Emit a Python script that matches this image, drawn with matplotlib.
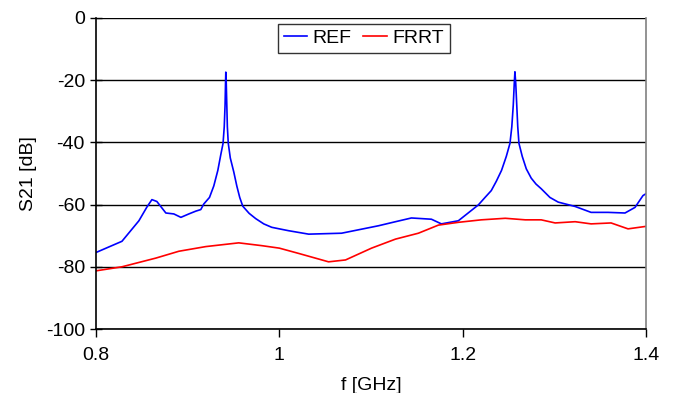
import matplotlib
matplotlib.use("Agg")
import matplotlib.pyplot as plt

plt.rcParams['font.family'] = ['Liberation Sans', 'DejaVu Sans']

ref_f = [0.800, 0.8283, 0.8468, 0.8555, 0.8610, 0.8664, 0.8762, 0.8849, 0.8926, 0.9013,
         0.9089, 0.9143, 0.9176, 0.9238, 0.9285, 0.9329, 0.9361, 0.9386, 0.9399, 0.9408,
         0.9413, 0.9416, 0.9421, 0.9427, 0.9433, 0.9443, 0.9465, 0.9503, 0.9536, 0.9568,
         0.9601, 0.9670, 0.9742, 0.9830, 0.9917, 1.0000, 1.0102,
         1.0320, 1.0679, 1.1082, 1.1267, 1.1441, 1.1659, 1.1768, 1.1953, 1.2171,
         1.2244, 1.2312, 1.2367, 1.2424, 1.2476, 1.2516, 1.2536, 1.2552, 1.2563, 1.2570,
         1.2579, 1.2590, 1.2601, 1.2614, 1.2650, 1.2694, 1.2748, 1.2800, 1.2857, 1.2952,
         1.3042, 1.3227, 1.3401, 1.3586, 1.3771, 1.3880, 1.3967, 1.4000]
ref_db = [-75.4, -71.8, -65.2, -60.8, -58.4, -59.0, -62.7, -63.0, -64.1, -63.0,
          -62.1, -61.6, -59.8, -57.7, -54.0, -49.0, -44.0, -40.3, -35.0, -28.0,
          -21.0, -17.4, -21.0, -28.0, -35.0, -40.3, -45.0, -49.5, -54.0, -57.7,
          -60.5, -62.8, -64.5, -66.2, -67.3, -67.8, -68.4,
          -69.5, -69.2, -66.8, -65.5, -64.3, -64.7, -66.2, -65.2, -60.1,
          -57.7, -55.5, -52.5, -49.0, -44.5, -40.3, -35.0, -28.0, -21.0, -17.3,
          -21.0, -28.0, -35.0, -40.3, -44.5, -48.5, -51.5, -53.4, -54.9, -57.7,
          -59.2, -60.6, -62.5, -62.5, -62.7, -60.9, -57.1, -56.5]

frrt_f = [0.800, 0.8283, 0.8468, 0.8653, 0.8904, 0.9198, 0.9557, 0.9808, 1.0000,
          1.0211, 1.0537, 1.0722, 1.1006, 1.1267, 1.1517, 1.1735, 1.1953, 1.2203,
          1.2465, 1.2683, 1.2857, 1.3009, 1.3227, 1.3401, 1.3619, 1.3804, 1.4000]
frrt_db = [-81.3, -80.0, -78.6, -77.2, -75.0, -73.5, -72.3, -73.2, -74.0,
           -75.7, -78.4, -77.8, -74.0, -71.1, -69.2, -66.6, -65.7, -64.9,
           -64.4, -64.9, -64.9, -65.9, -65.5, -66.2, -65.9, -67.8, -67.0]

x_ticks = [0.8, 1.0, 1.2, 1.4]
x_tick_labels = ['0.8', '1', '1.2', '1.4']
y_ticks = [0, -20, -40, -60, -80, -100]

fig = plt.figure(figsize=(6.73, 3.93), dpi=100)
ax = fig.add_axes([96/673, 1-329/393, 550/673, 311/393])

ax.plot(ref_f, ref_db, color='#0000ff', lw=1.2, label='REF')
ax.plot(frrt_f, frrt_db, color='#ff0000', lw=1.2, label='FRRT')

ax.set_xlim(0.8, 1.4)
ax.set_ylim(-100, 0)
ax.set_xticks(x_ticks)
ax.set_xticklabels(x_tick_labels)
ax.set_yticks(y_ticks)
ax.set_yticklabels([str(v) for v in y_ticks])
ax.yaxis.grid(True, color='black', lw=1.0)
ax.set_axisbelow(True)

for s in ['left', 'bottom']:
    ax.spines[s].set_color('black')
    ax.spines[s].set_linewidth(1.2)
ax.spines['top'].set_visible(False)
ax.spines['right'].set_color('#808080')
ax.spines['right'].set_linewidth(1.2)

ax.tick_params(axis='y', direction='inout', length=8, width=1, labelsize=14, pad=4)
ax.tick_params(axis='x', direction='out', length=6, width=1, labelsize=14, pad=7)

ax.set_xlabel('f [GHz]', fontsize=14, labelpad=9)
ax.set_ylabel('S21 [dB]', fontsize=14, labelpad=6)

leg = ax.legend(loc='upper center', bbox_to_anchor=(0.487, 0.982), ncol=2,
                fontsize=14, frameon=True, fancybox=False, handlelength=1.2,
                handletextpad=0.3, columnspacing=0.6, borderpad=0.3,
                borderaxespad=0)
leg.get_frame().set_edgecolor('black')
leg.get_frame().set_linewidth(1.0)

fig.savefig('out.png', dpi=100)
